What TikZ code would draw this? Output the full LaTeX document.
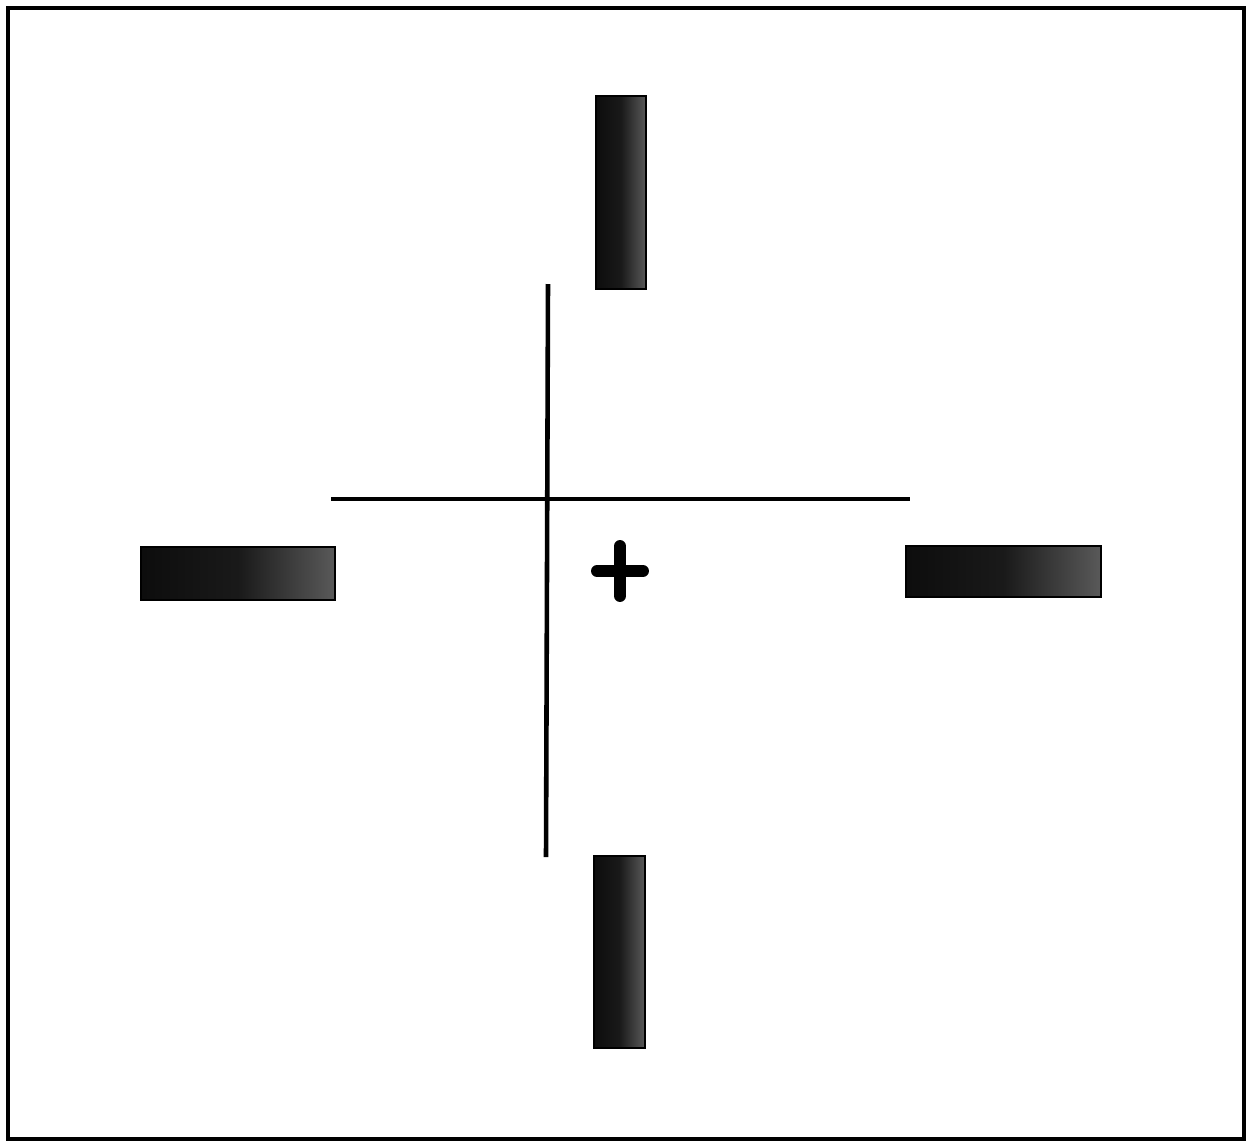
\documentclass[tikz,border=0pt]{standalone}
\usepackage{tikz}
\usetikzlibrary{calc}
\pgfdeclarehorizontalshading{barshade}{100bp}{%
  color(0bp)=(black); color(50bp)=(black!90); color(100bp)=(black!40)}
\tikzset{
  frameln/.style={line width=0.9pt, black},
  hairln/.style={line width=1.3pt, black},
  crossln/.style={line width=3.4pt, black, line cap=round},
  barbox/.style={shading=barshade, draw=black, line width=0.3pt},
}

\begin{document}
\begin{tikzpicture}[x=0.01cm, y=-0.01cm]
    \useasboundingbox (0,0) rectangle (1248,1142);
    % frame
    \draw[frameln] (8,8) rectangle (1244,1139);
    % bars
    \shade[barbox] (596,96) rectangle (646,289);
    \shade[barbox] (594,856) rectangle (645,1048);
    \shade[barbox] (141,547) rectangle (335,600);
    \shade[barbox] (906,546) rectangle (1101,597);
    % reference lines
    \coordinate (vtop) at (548,284);
    \coordinate (vbot) at (546,857);
    \coordinate (hlft) at (331,499);
    \coordinate (hrgt) at (910,499);
    \draw[hairln] (vtop) -- (vbot);
    \draw[hairln] (hlft) -- (hrgt);
    % fixation cross
    \coordinate (fix) at (620,571);
    \draw[crossln] ($(fix)+(-23,0)$) -- ($(fix)+(23,0)$);
    \draw[crossln] ($(fix)+(0,-25)$) -- ($(fix)+(0,25)$);
\end{tikzpicture}
\end{document}
